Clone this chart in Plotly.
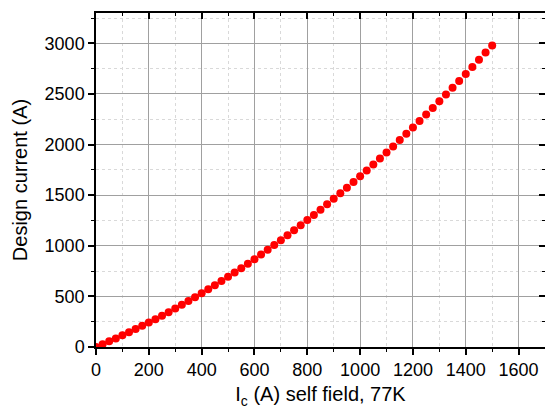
import plotly.graph_objects as go

# Critical current Ic (A), self field 77K
ic_values = [0, 25, 50, 75, 100, 125, 150, 175, 200, 225, 250, 275, 300, 325, 350, 375,
             400, 425, 450, 475, 500, 525, 550, 575, 600, 625, 650, 675, 700, 725, 750,
             775, 800, 825, 850, 875, 900, 925, 950, 975, 1000, 1025, 1050, 1075, 1100,
             1125, 1150, 1175, 1200, 1225, 1250, 1275, 1300, 1325, 1350, 1375, 1400,
             1425, 1450, 1475, 1500]
# Design current (A)
design_current = [0, 28, 56, 85, 115, 145, 177, 209, 241, 275, 309, 344, 380, 417, 454, 492,
                  531, 570, 611, 652, 694, 736, 779, 823, 868, 914, 960, 1007, 1055, 1103, 1153,
                  1203, 1254, 1305, 1357, 1410, 1464, 1519, 1574, 1630, 1687, 1745, 1803, 1862, 1922,
                  1982, 2044, 2106, 2168, 2232, 2296, 2361, 2427, 2494, 2561, 2629, 2698,
                  2767, 2838, 2909, 2980]

x_title = "I<sub>c</sub> (A) self field, 77K"
y_title = "Design current (A)"
x_range = [0, 1700]
y_range = [0, 3300]

font_family = "Liberation Sans, Arial, Helvetica, sans-serif"

fig = go.Figure()
fig.add_trace(go.Scatter(
    x=ic_values, y=design_current, mode="markers",
    marker=dict(color="#ff0000", size=8, line=dict(width=0)),
    showlegend=False,
))
# invisible trace to anchor the mirrored top/right axes
fig.add_trace(go.Scatter(
    x=ic_values, y=design_current, mode="markers", xaxis="x2", yaxis="y2",
    marker=dict(opacity=0), showlegend=False, hoverinfo="skip",
))

grid_major = "#a0a0a0"
grid_minor = "#d9d9d9"

fig.update_layout(
    width=545, height=414,
    margin=dict(l=96, r=0, t=13, b=67),
    paper_bgcolor="white", plot_bgcolor="white",
    font=dict(family=font_family, size=18, color="black"),
    xaxis=dict(
        range=x_range, dtick=200, tick0=0,
        showline=True, linecolor="black", linewidth=1.5,
        ticks="outside", ticklen=6, tickwidth=1.5, tickcolor="black",
        showgrid=True, gridcolor=grid_major, gridwidth=1,
        zeroline=False,
        minor=dict(dtick=100, ticks="outside", ticklen=3, tickcolor="black", tickwidth=1,
                   showgrid=True, gridcolor=grid_minor, griddash="dot", gridwidth=1),
        title=dict(text=x_title, font=dict(size=20), standoff=8),
        tickfont=dict(size=18),
    ),
    yaxis=dict(
        range=y_range, dtick=500, tick0=0,
        showline=True, linecolor="black", linewidth=1.5,
        ticks="outside", ticklen=6, tickwidth=1.5, tickcolor="black",
        showgrid=True, gridcolor=grid_major, gridwidth=1,
        zeroline=False,
        minor=dict(dtick=250, ticks="outside", ticklen=3, tickcolor="black", tickwidth=1,
                   showgrid=True, gridcolor=grid_minor, griddash="dot", gridwidth=1),
        title=dict(text=y_title, font=dict(size=20), standoff=12),
        tickfont=dict(size=18),
    ),
    xaxis2=dict(
        range=x_range, dtick=200, tick0=0, overlaying="x", side="top", anchor="y",
        showline=True, linecolor="black", linewidth=1.5,
        ticks="inside", ticklen=6, tickwidth=1.5, tickcolor="black",
        showticklabels=False, showgrid=False, zeroline=False,
        minor=dict(dtick=100, ticks="inside", ticklen=3, tickcolor="black", tickwidth=1),
    ),
    yaxis2=dict(
        range=y_range, dtick=500, tick0=0, overlaying="y", side="right", anchor="x",
        showline=True, linecolor="black", linewidth=1.5,
        ticks="inside", ticklen=6, tickwidth=1.5, tickcolor="black",
        showticklabels=False, showgrid=False, zeroline=False,
        minor=dict(dtick=250, ticks="inside", ticklen=3, tickcolor="black", tickwidth=1),
    ),
)

fig.write_html("out.html")
